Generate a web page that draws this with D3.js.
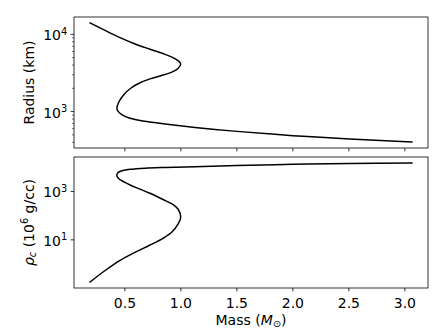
<!DOCTYPE html>
<html>
<head>
<meta charset="utf-8">
<script src="https://cdn.jsdelivr.net/npm/d3@7"></script>
<style>
    body { margin: 0; background: #fff; }
    svg { display: block; font-family: 'DejaVu Sans', sans-serif; }
</style>
</head>
<body>
<svg width="448" height="336"></svg>
<script>
// white dwarf sequence, ordered by central density
var mass   = [0.189, 0.323, 0.457, 0.590, 0.724, 0.840, 0.920, 0.974, 0.998,
              0.974, 0.920, 0.840, 0.724, 0.635, 0.555, 0.492, 0.448, 0.428,
              0.439, 0.475, 0.546, 0.680, 0.858, 1.126, 1.500, 2.000, 2.508, 3.063];
var radius = [14060, 11250, 9080, 7520, 6430, 5640, 5080, 4580, 4150,
              3610, 3250, 2970, 2650, 2360, 2020, 1670, 1350, 1120,
              1005, 906, 820, 750, 692, 624, 554, 488, 442, 403];
var rhoC   = [0.18, 0.54, 1.43, 3.05, 6.12, 11.6, 21.1, 45, 84,
              189, 304, 468, 843, 1250, 1775, 2480, 3300, 4510,
              6120, 7190, 8220, 9220, 9860, 10540, 11800, 13240, 14290, 15130];

var xTicks = [0.5, 1.0, 1.5, 2.0, 2.5, 3.0];
var radiusTicks = [1e3, 1e4];
var rhoTicks = [1e1, 1e3];

var svg = d3.select('svg');
var left = 74, right = 428;
var fs = 14, fsSmall = 9.8;
var topPanel = { y0: 17, y1: 148 },
    botPanel = { y0: 157, y1: 288 };

function pad(ext, f) {
    var d = ext[1] - ext[0];
    return [ext[0] - d * f, ext[1] + d * f];
}
function logPad(vals) {
    var e = pad(d3.extent(vals, function(v) { return Math.log10(v); }), 0.05);
    return [Math.pow(10, e[0]), Math.pow(10, e[1])];
}

var x = d3.scaleLinear().domain(pad(d3.extent(mass), 0.05)).range([left, right]);
var yR = d3.scaleLog().domain(logPad(radius)).range([topPanel.y1, topPanel.y0]);
var yRho = d3.scaleLog().domain(logPad(rhoC)).range([botPanel.y1, botPanel.y0]);

var pts = mass.map(function(m, i) { return { m: m, r: radius[i], rho: rhoC[i] }; });

function drawPanel(panel, y, key, majors, minor, showX) {
    var g = svg.append('g');

    var line = d3.line()
        .x(function(d) { return x(d.m); })
        .y(function(d) { return y(d[key]); })
        .curve(d3.curveCatmullRom.alpha(0.5));

    g.append('path')
        .datum(pts)
        .attr('d', line)
        .attr('fill', 'none')
        .attr('stroke', '#000')
        .attr('stroke-width', 1.5)
        .attr('stroke-linejoin', 'round')
        .attr('stroke-linecap', 'square');

    g.append('rect')
        .attr('x', left).attr('y', panel.y0)
        .attr('width', right - left).attr('height', panel.y1 - panel.y0)
        .attr('fill', 'none').attr('stroke', '#000').attr('stroke-width', 0.8);

    // x ticks
    xTicks.forEach(function(t) {
        g.append('line')
            .attr('x1', x(t)).attr('x2', x(t))
            .attr('y1', panel.y1).attr('y2', panel.y1 + 3.4)
            .attr('stroke', '#000').attr('stroke-width', 0.8);
        if (showX) {
            g.append('text')
                .attr('x', x(t)).attr('y', panel.y1 + 19.5)
                .attr('text-anchor', 'middle')
                .attr('font-size', fs)
                .text(t.toFixed(1));
        }
    });

    // y minor ticks
    if (minor) {
        var dom = y.domain();
        for (var e = Math.floor(Math.log10(dom[0])); e <= Math.ceil(Math.log10(dom[1])); e++) {
            for (var s = 2; s <= 9; s++) {
                var v = s * Math.pow(10, e);
                if (v < dom[0] || v > dom[1]) continue;
                g.append('line')
                    .attr('x1', left - 1.9).attr('x2', left)
                    .attr('y1', y(v)).attr('y2', y(v))
                    .attr('stroke', '#000').attr('stroke-width', 0.6);
            }
        }
    }

    // y major ticks
    majors.forEach(function(t) {
        g.append('line')
            .attr('x1', left - 3.4).attr('x2', left)
            .attr('y1', y(t)).attr('y2', y(t))
            .attr('stroke', '#000').attr('stroke-width', 0.8);
        var txt = g.append('text')
            .attr('x', left - 6.8).attr('y', y(t) + 6)
            .attr('text-anchor', 'end')
            .attr('font-size', fs);
        txt.append('tspan').text('10');
        txt.append('tspan').attr('font-size', fsSmall).attr('dy', -5.7)
            .text(Math.round(Math.log10(t)));
    });
}

drawPanel(topPanel, yR, 'r', radiusTicks, true, false);
drawPanel(botPanel, yRho, 'rho', rhoTicks, false, true);

// axis labels
var cx = (left + right) / 2;
var xl = svg.append('text')
    .attr('x', cx).attr('y', 324.5)
    .attr('text-anchor', 'middle')
    .attr('font-size', fs);
xl.append('tspan').text('Mass (');
xl.append('tspan').attr('font-style', 'italic').text('M');
xl.append('tspan').attr('font-size', fsSmall).attr('dy', 2.8).text('\u2299');
xl.append('tspan').attr('dy', -2.8).text(')');

var ty = (topPanel.y0 + topPanel.y1) / 2;
svg.append('text')
    .attr('transform', 'translate(33.5,' + ty + ') rotate(-90)')
    .attr('text-anchor', 'middle')
    .attr('font-size', fs)
    .text('Radius (km)');

var by = (botPanel.y0 + botPanel.y1) / 2;
var rl = svg.append('text')
    .attr('transform', 'translate(33.5,' + by + ') rotate(-90)')
    .attr('text-anchor', 'middle')
    .attr('font-size', fs);
rl.append('tspan').attr('font-style', 'italic').text('\u03C1');
rl.append('tspan').attr('font-style', 'italic').attr('font-size', fsSmall).attr('dy', 2.8).text('c');
rl.append('tspan').attr('dy', -2.8).text(' (10');
rl.append('tspan').attr('font-size', fsSmall).attr('dy', -5.7).text('6');
rl.append('tspan').attr('dy', 5.7).text(' g/cc)');
</script>
</body>
</html>
